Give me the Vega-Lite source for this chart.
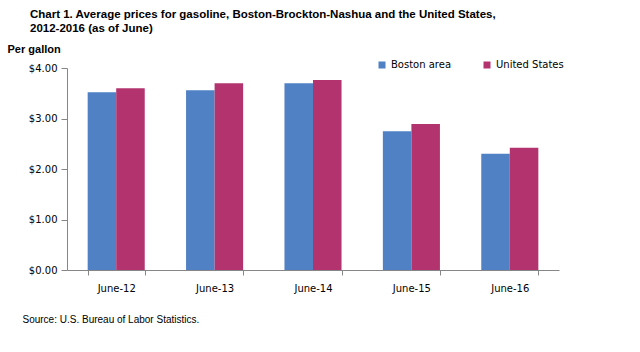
{
  "$schema": "https://vega.github.io/schema/vega-lite/v6.json",
  "autosize": "none",
  "width": 492,
  "height": 202,
  "padding": {"left": 67, "top": 68, "right": 81, "bottom": 82},
  "background": "white",
  "title": {
    "text": ["Chart 1. Average prices for gasoline, Boston-Brockton-Nashua  and the United  States,", "2012-2016 (as of June)"],
    "anchor": "start",
    "frame": "group",
    "dx": -37,
    "offset": 9,
    "font": "Liberation Sans",
    "fontSize": 11.5,
    "fontWeight": "bold",
    "color": "black",
    "lineHeight": 14
  },
  "data": {
    "values": [
      {"month": "June-12", "series": "Boston area", "price": 3.52},
      {"month": "June-12", "series": "United States", "price": 3.60},
      {"month": "June-13", "series": "Boston area", "price": 3.56},
      {"month": "June-13", "series": "United States", "price": 3.70},
      {"month": "June-14", "series": "Boston area", "price": 3.70},
      {"month": "June-14", "series": "United States", "price": 3.76},
      {"month": "June-15", "series": "Boston area", "price": 2.75},
      {"month": "June-15", "series": "United States", "price": 2.89},
      {"month": "June-16", "series": "Boston area", "price": 2.30},
      {"month": "June-16", "series": "United States", "price": 2.42}
    ]
  },
  "mark": {"type": "bar"},
  "encoding": {
    "x": {
      "field": "month",
      "type": "nominal",
      "scale": {"paddingInner": 0.42, "paddingOuter": 0.21},
      "axis": {
        "labelAngle": 0,
        "labelFont": "DejaVu Sans",
        "labelFontSize": 10,
        "labelColor": "black",
        "labelPadding": 8,
        "domainColor": "#868686",
        "tickColor": "#868686",
        "tickSize": 5,
        "tickBand": "extent",
        "title": "Source: U.S. Bureau of Labor Statistics.",
        "titleFont": "Liberation Sans",
        "titleFontSize": 10,
        "titleFontWeight": "normal",
        "titleColor": "black",
        "titleAlign": "left",
        "titleAnchor": "start",
        "titleX": -45,
        "titleY": 52,
        "titleBaseline": "alphabetic"
      }
    },
    "xOffset": {"field": "series", "type": "nominal"},
    "y": {
      "field": "price",
      "type": "quantitative",
      "scale": {"domain": [0, 4]},
      "axis": {
        "values": [0, 1, 2, 3, 4],
        "format": "$.2f",
        "grid": false,
        "labelFont": "DejaVu Sans",
        "labelFontSize": 10,
        "labelColor": "black",
        "labelPadding": 4,
        "domainColor": "#868686",
        "tickColor": "#868686",
        "tickSize": 6,
        "title": "Per gallon",
        "titleFont": "Liberation Sans",
        "titleFontSize": 11,
        "titleFontWeight": "bold",
        "titleColor": "black",
        "titleAngle": 0,
        "titleAlign": "left",
        "titleBaseline": "alphabetic",
        "titleX": -60,
        "titleY": -16
      }
    },
    "color": {
      "field": "series",
      "type": "nominal",
      "scale": {"domain": ["Boston area", "United States"], "range": ["#4F81C4", "#B3336F"]},
      "legend": {
        "title": null,
        "orient": "none",
        "direction": "horizontal",
        "legendX": 310,
        "legendY": -8,
        "symbolType": "square",
        "symbolSize": 49,
        "symbolStrokeWidth": 0,
        "labelFont": "DejaVu Sans",
        "labelFontSize": 10,
        "labelColor": "black",
        "labelOffset": 4,
        "columnPadding": 30
      }
    }
  },
  "config": {"view": {"stroke": null}}
}
